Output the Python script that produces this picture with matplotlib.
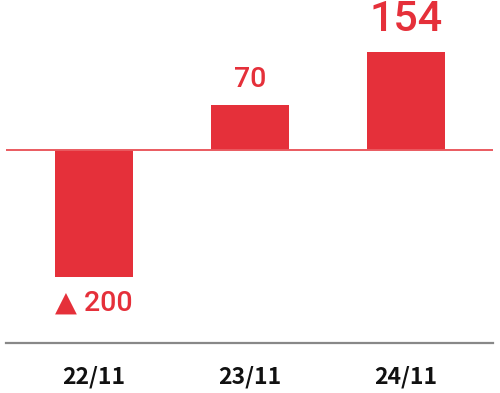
import matplotlib.pyplot as plt

# Data
periods = ["22/11", "23/11", "24/11"]
values = [-200, 70, 154]
value_labels = ["▲ 200", "70", "154"]

red = "#e5303a"

fig = plt.figure(figsize=(5, 3.93), dpi=100)
ax = fig.add_axes([0.012, 0.1272, 0.974, 0.8728])

x = range(len(values))
ax.bar(x, values, width=0.5, color=red, zorder=2)

ax.axhline(0, color="#ea5a60", linewidth=1.4, zorder=3)
ax.set_xlim(-0.564, 2.558)
ax.set_ylim(-303.5, 235.8)

# value labels, latest period highlighted
for i, (v, lab) in enumerate(zip(values, value_labels)):
    size = 31 if i == len(values) - 1 else 20.5
    if v >= 0:
        ax.annotate(lab, (i, v), xytext=(0, 9), textcoords="offset points",
                    ha="center", va="bottom", fontsize=size, color=red,
                    family=["Roboto", "DejaVu Sans"], fontweight="medium")
    else:
        ax.annotate(lab, (i, v), xytext=(0, -9), textcoords="offset points",
                    ha="center", va="top", fontsize=size, color=red,
                    family=["Roboto", "DejaVu Sans"], fontweight="medium")

ax.set_xticks(list(x))
ax.set_xticklabels(periods, family=["Noto Sans CJK JP", "DejaVu Sans"],
                   fontsize=16.5, fontweight="bold", color="#111111")
ax.tick_params(axis="x", length=0, pad=16)
ax.set_yticks([])

for side in ["top", "left", "right"]:
    ax.spines[side].set_visible(False)
ax.spines["bottom"].set_color("#888888")
ax.spines["bottom"].set_linewidth(1.6)

fig.savefig("out.png", dpi=100)
